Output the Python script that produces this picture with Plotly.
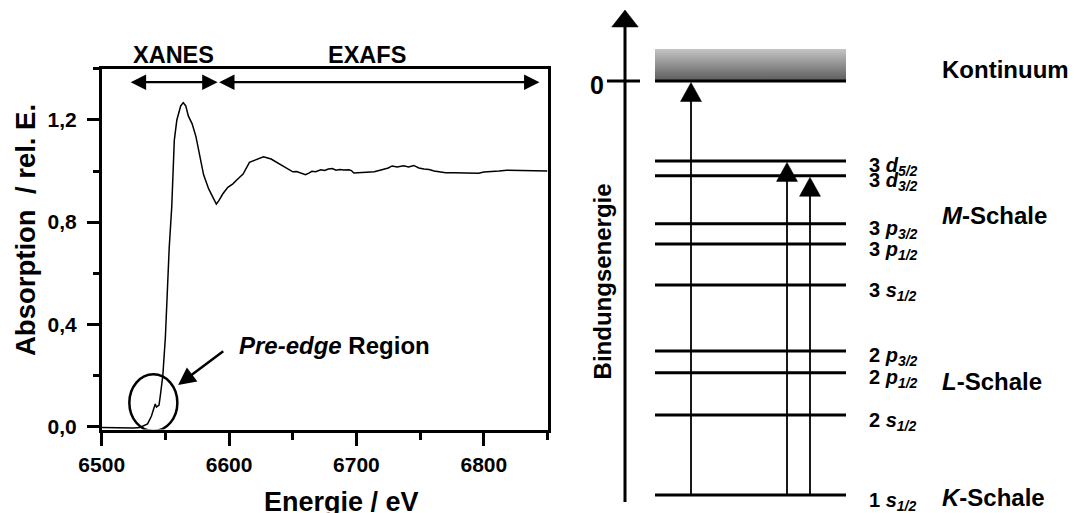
import plotly.graph_objects as go

FONT = "Arial, Liberation Sans, Helvetica, sans-serif"

# ---------------- data: Fe K-edge absorption spectrum ----------------
energy_eV = [6500, 6505, 6510, 6515, 6520, 6525, 6530, 6532, 6536, 6539, 6541, 6542,
             6543, 6545, 6546, 6548, 6550, 6552, 6553, 6555, 6556, 6557, 6559, 6562,
             6564, 6566, 6568, 6571, 6574, 6577, 6580, 6584, 6587, 6590, 6592, 6595,
             6599, 6603, 6606, 6611, 6616, 6622, 6627, 6633, 6640, 6644, 6648, 6650,
             6653, 6655, 6658, 6660, 6663, 6665, 6668, 6672, 6675, 6678, 6681, 6684,
             6687, 6690, 6694, 6696, 6698, 6703, 6708, 6714, 6720, 6725, 6728, 6732,
             6737, 6741, 6745, 6749, 6753, 6757, 6761, 6765, 6770, 6776, 6784, 6790,
             6796, 6800, 6805, 6812, 6818, 6825, 6832, 6840, 6850]
absorption = [-0.004, -0.005, -0.004, -0.006, -0.005, -0.006, -0.004, 0.000, 0.010, 0.040, 0.078, 0.088,
              0.076, 0.084, 0.120, 0.200, 0.350, 0.600, 0.700, 0.860, 1.000, 1.120, 1.200, 1.255,
              1.268, 1.255, 1.216, 1.185, 1.135, 1.060, 0.985, 0.930, 0.897, 0.871, 0.884, 0.910,
              0.936, 0.950, 0.965, 0.988, 1.034, 1.047, 1.056, 1.047, 1.027, 1.014, 1.003, 0.997,
              0.998, 0.994, 0.990, 0.986, 0.993, 0.999, 0.997, 1.005, 1.002, 1.008, 1.010, 1.003,
              1.006, 1.004, 1.005, 1.002, 0.992, 0.993, 0.995, 0.997, 1.005, 1.012, 1.020, 1.016,
              1.021, 1.016, 1.022, 1.012, 1.008, 1.006, 1.000, 0.997, 0.993, 0.993, 0.992, 0.993,
              0.991, 0.996, 0.997, 1.000, 1.003, 1.002, 1.001, 1.002, 1.000]

x_tickvals = [6500, 6600, 6700, 6800]
y_tickvals = [0.0, 0.4, 0.8, 1.2]
y_ticktext = ["0,0", "0,4", "0,8", "1,2"]

# regions (eV) and annotation anchors
xanes_range = [6521.6, 6591.0]
exafs_range = [6591.0, 6843.7]
region_arrow_y = 1.348
region_label_x = [6556.0, 6708.0]
preedge_box = [6521.7, 6559.4, -0.018, 0.204]   # x0, x1, y0, y1
preedge_arrow_tail = [6596.6, 0.299]
preedge_arrow_tip = [6560.0, 0.162]

# ---------------- data: energy level diagram (schematic units) ----------------
level_n = ["3", "3", "3", "3", "3", "2", "2", "2", "1"]
level_l = ["d", "d", "p", "p", "s", "p", "p", "s", "s"]
level_j = ["5/2", "3/2", "3/2", "1/2", "1/2", "3/2", "1/2", "1/2", "1/2"]
level_energy = [-19.3, -22.9, -34.5, -39.4, -49.3, -65.2, -70.5, -80.7, -100.0]
continuum_energy = 0.0
continuum_band = 7.7

shell_names = ["Kontinuum", "<i>M</i>-Schale", "<i>L</i>-Schale", "<i>K</i>-Schale"]
shell_label_energy = [2.7, -32.4, -72.5, -100.7]

# transitions from 1s to: continuum, 3d5/2, 3d3/2
transition_targets = [0.0, -19.3, -22.9]
transition_x = [131, 227, 250]

# geometry of the diagram (x2 units = pixels from the panel start)
LVL_X0, LVL_X1 = 95, 286
AXIS_X = 65
AXIS_BOTTOM, AXIS_TOP = -101.7, 17.15
E_PER_PX = 1 / 4.14

fig = go.Figure()

# spectrum
fig.add_trace(go.Scatter(x=energy_eV, y=absorption, mode="lines",
                         line=dict(color="black", width=1.5), xaxis="x", yaxis="y",
                         showlegend=False, hoverinfo="skip"))

# continuum band with gradient
fig.add_trace(go.Scatter(x=[LVL_X0, LVL_X1, LVL_X1, LVL_X0, LVL_X0],
                         y=[continuum_energy, continuum_energy, continuum_energy + continuum_band,
                            continuum_energy + continuum_band, continuum_energy],
                         mode="lines", line=dict(width=0), fill="toself",
                         fillgradient=dict(type="vertical",
                                           colorscale=[[0, "#5c5c5c"], [1, "#c4c4c4"]]),
                         xaxis="x2", yaxis="y2", showlegend=False, hoverinfo="skip"))

# level lines (incl. continuum edge)
lx, ly = [], []
for e in [continuum_energy] + level_energy:
    lx += [LVL_X0, LVL_X1, None]
    ly += [e, e, None]
fig.add_trace(go.Scatter(x=lx, y=ly, mode="lines", line=dict(color="black", width=3),
                         xaxis="x2", yaxis="y2", showlegend=False, hoverinfo="skip"))

# energy axis line and zero tick
fig.add_trace(go.Scatter(x=[AXIS_X, AXIS_X, None, AXIS_X - 18, AXIS_X + 15],
                         y=[AXIS_BOTTOM, AXIS_TOP - 17 * E_PER_PX, None, 0, 0],
                         mode="lines", line=dict(color="black", width=3),
                         xaxis="x2", yaxis="y2", showlegend=False, hoverinfo="skip"))

# transition shafts
sx, sy = [], []
for tx, te in zip(transition_x, transition_targets):
    sx += [tx, tx, None]
    sy += [level_energy[-1], te - 10 * E_PER_PX, None]
fig.add_trace(go.Scatter(x=sx, y=sy, mode="lines", line=dict(color="black", width=1.8),
                         xaxis="x2", yaxis="y2", showlegend=False, hoverinfo="skip"))

# arrow heads (filled triangles)
hx, hy = [], []
hl = 17 * E_PER_PX
hx += [AXIS_X - 13.3, AXIS_X + 13.3, AXIS_X, AXIS_X - 13.3, None]
hy += [AXIS_TOP - hl, AXIS_TOP - hl, AXIS_TOP, AXIS_TOP - hl, None]
for tx, te in zip(transition_x, transition_targets):
    tip = te - 1.5 * E_PER_PX
    base = tip - 19 * E_PER_PX
    hx += [tx - 10.5, tx + 10.5, tx, tx - 10.5, None]
    hy += [base, base, tip, base, None]
fig.add_trace(go.Scatter(x=hx, y=hy, mode="lines", line=dict(color="black", width=0.5),
                         fill="toself", fillcolor="black",
                         xaxis="x2", yaxis="y2", showlegend=False, hoverinfo="skip"))


def bfont(size):
    return dict(family=FONT, size=size, color="black", weight="bold")


annotations = []
# region arrows
for rng in (xanes_range, exafs_range):
    annotations.append(dict(x=rng[1], y=region_arrow_y, ax=rng[0], ay=region_arrow_y,
                            xref="x", yref="y", axref="x", ayref="y", text="",
                            showarrow=True, arrowhead=2, startarrowhead=2,
                            arrowside="end+start", arrowwidth=2.2, arrowsize=1.4,
                            startarrowsize=1.4, arrowcolor="black", standoff=0, startstandoff=0))
for lbl, xc in zip(["XANES", "EXAFS"], region_label_x):
    annotations.append(dict(x=xc, y=1 - 55 / 513, xref="x", yref="paper",
                            xanchor="center", yanchor="middle",
                            text=lbl, showarrow=False, font=bfont(23.5)))
# pre-edge
annotations.append(dict(x=preedge_arrow_tip[0], y=preedge_arrow_tip[1],
                        ax=preedge_arrow_tail[0], ay=preedge_arrow_tail[1],
                        xref="x", yref="y", axref="x", ayref="y", text="",
                        showarrow=True, arrowhead=2, arrowwidth=2.5, arrowsize=1.4,
                        arrowcolor="black", standoff=0))
annotations.append(dict(x=6606, y=0.318, xref="x", yref="y", xanchor="left", yanchor="middle",
                        text="<i>Pre-edge</i> Region", showarrow=False, font=bfont(24)))
# axis titles
annotations.append(dict(x=25 / 1074, y=1 - 230 / 513, xref="paper", yref="paper",
                        xanchor="center", yanchor="middle",
                        text="Absorption\u00a0 / rel. E.", textangle=-90, showarrow=False,
                        font=bfont(27.5)))
annotations.append(dict(x=6688, y=1 - 502 / 513, xref="x", yref="paper",
                        xanchor="center", yanchor="middle",
                        text="Energie / eV", showarrow=False, font=bfont(27)))

# level diagram texts
annotations.append(dict(x=37, y=0, xref="x2", yref="y2", text="0", showarrow=False,
                        xanchor="center", yanchor="middle", yshift=-4, font=bfont(25)))
annotations.append(dict(x=42, y=-48.4, xref="x2", yref="y2", text="Bindungsenergie",
                        xanchor="center", yanchor="middle",
                        textangle=-90, showarrow=False, font=bfont(24)))
for n, l, j, e in zip(level_n, level_l, level_j, level_energy):
    annotations.append(dict(x=307, y=e, xref="x2", yref="y2", xanchor="left", yanchor="middle",
                            text=f"{n} <i>{l}</i><sub><i>{j}</i></sub>", showarrow=False,
                            yshift=-6, font=bfont(20)))
for name, e in zip(shell_names, shell_label_energy):
    annotations.append(dict(x=380, y=e, xref="x2", yref="y2", xanchor="left", yanchor="middle",
                            text=name, showarrow=False, font=bfont(24)))

shapes = [dict(type="circle", xref="x", yref="y", x0=preedge_box[0], x1=preedge_box[1],
               y0=preedge_box[2], y1=preedge_box[3], line=dict(color="black", width=2.5))]

axis_common = dict(showgrid=False, zeroline=False, showline=True, linecolor="black",
                   linewidth=2.5, mirror=True, ticks="outside", tickcolor="black",
                   tickwidth=2.5, automargin=False, tickfont=bfont(21))

fig.update_layout(
    width=1074, height=513,
    margin=dict(l=0, r=0, t=0, b=0, pad=0, autoexpand=False),
    paper_bgcolor="white", plot_bgcolor="white",
    font=dict(family=FONT, color="black"),
    showlegend=False,
    xaxis=dict(domain=[101.7 / 1074, 547.5 / 1074], range=[6500, 6850],
               tickvals=x_tickvals, ticklen=14, ticklabelstandoff=1,
               minor=dict(dtick=50, tick0=6500, ticks="outside", ticklen=8, tickwidth=2.5,
                          tickcolor="black"),
               anchor="y", **axis_common),
    yaxis=dict(domain=[1 - 429.5 / 513, 1 - 68.9 / 513], range=[-0.012, 1.4],
               tickvals=y_tickvals, ticktext=y_ticktext, ticklen=12, ticklabelstandoff=6,
               minor=dict(dtick=0.2, tick0=0, ticks="outside", ticklen=6, tickwidth=2.5,
                          tickcolor="black"),
               anchor="x", **axis_common),
    xaxis2=dict(domain=[560 / 1074, 1], range=[0, 514], visible=False, anchor="y2"),
    yaxis2=dict(domain=[0, 1], range=[-432 * E_PER_PX, 81 * E_PER_PX], visible=False,
                anchor="x2"),
    annotations=annotations,
    shapes=shapes,
)

fig.write_html("out.html",
               config={"displayModeBar": False},
               post_script="document.body.style.margin='0px';"
                           "document.body.style.overflow='hidden';")
